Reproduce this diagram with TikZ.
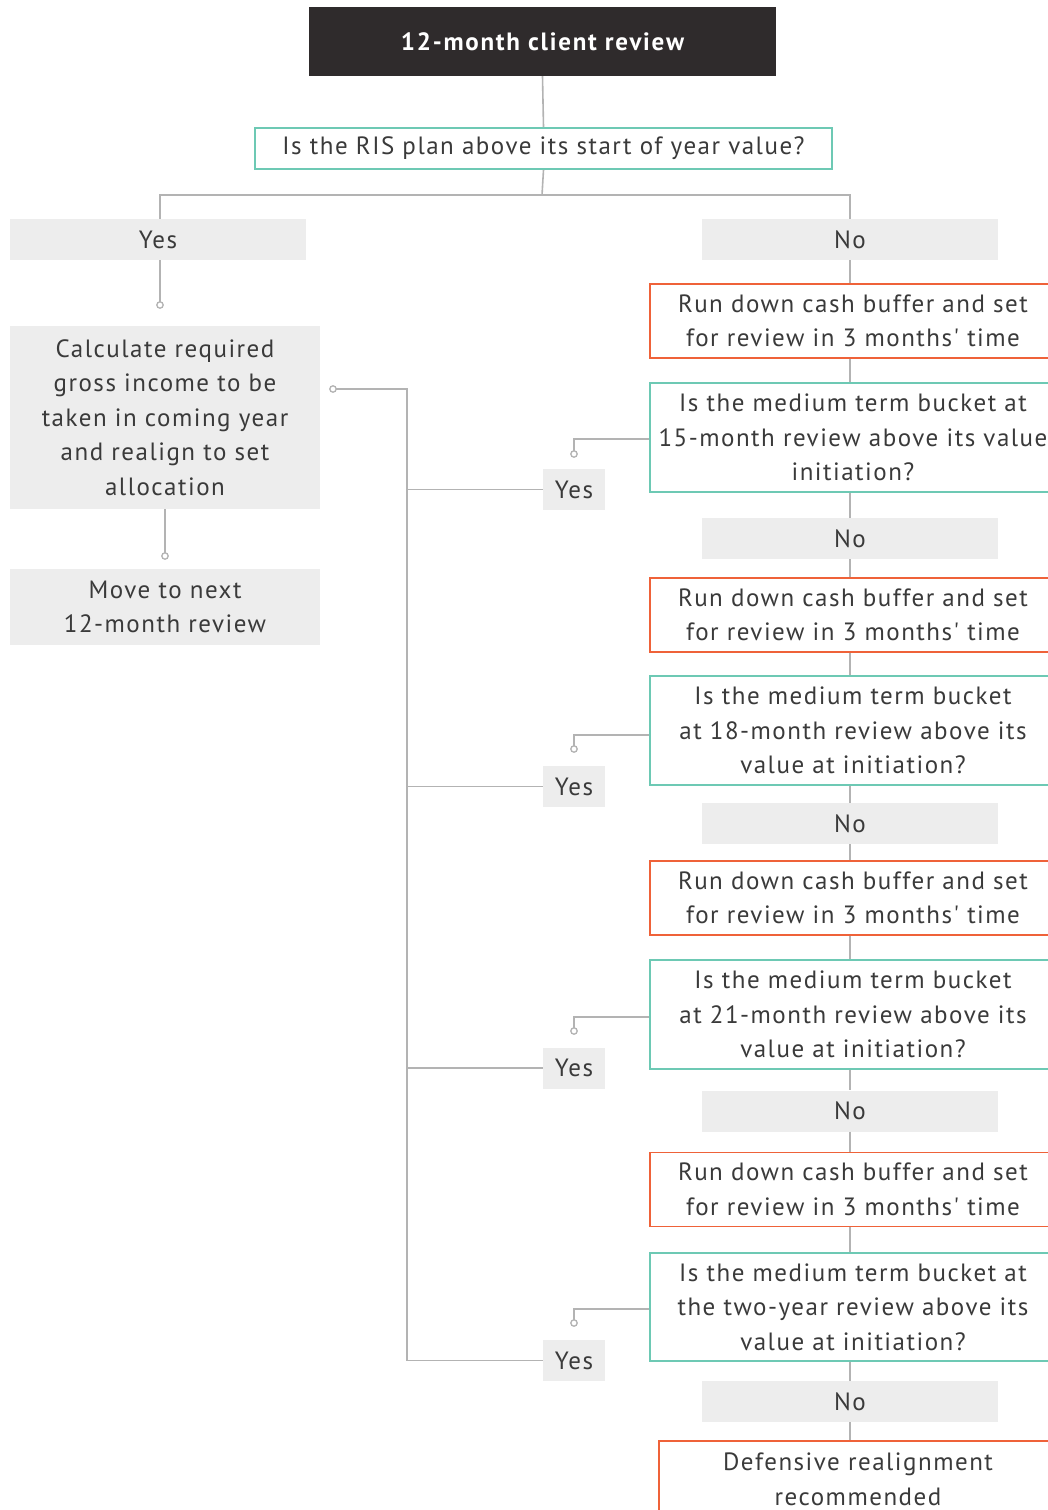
\documentclass[tikz,border=0pt]{standalone}
\usepackage{fontspec}
\setmainfont{PT Sans}[Ligatures=TeXOff, LetterSpace=6]
\newfontfamily\titlefont{PT Sans}[Ligatures=TeXOff, LetterSpace=7]
\definecolor{teal}{HTML}{6DC9B4}
\definecolor{org}{HTML}{EF6239}
\definecolor{lgray}{HTML}{B3B3B3}
\definecolor{gfill}{HTML}{EDEDED}
\definecolor{titlebg}{HTML}{2F2B2C}
\definecolor{txt}{HTML}{3A3A3A}
\tikzset{
  base/.style={inner sep=0pt, align=center, text=txt, font=\fontsize{25}{34.5}\selectfont},
  titlebox/.style={base, fill=titlebg, text=white, font=\titlefont\bfseries\fontsize{25}{34.5}\selectfont},
  tealbox/.style={base, draw=teal, line width=1.8pt},
  orgbox/.style={base, draw=org, line width=1.8pt},
  graybox/.style={base, fill=gfill},
  conn/.style={draw=lgray, line width=1.6pt},
  dot/.style={draw=lgray, line width=1.3pt, fill=white},
}
\begin{document}
\begin{tikzpicture}[x=1pt,y=-1pt]
\useasboundingbox (0,0) rectangle (1048,1510);
\clip (0,0) rectangle (1048,1510);
% top
\node[titlebox, minimum width=467, minimum height=69] (title) at (542.5,41.5) {12-month client review};
\node[tealbox, minimum width=577, minimum height=41] (q) at (543.5,148.5) {Is the RIS plan above its start of year value?};
\node[graybox, minimum width=296, minimum height=41] (yesA) at (158,239.5) {Yes};
\node[graybox, minimum width=296, minimum height=41] (noA) at (850,239.5) {No};
\coordinate (j) at (542,195);
% left column
\node[graybox, minimum width=310, minimum height=183] (calc) at (165,417.5) {Calculate required\\gross income to be\\taken in coming year\\and realign to set\\allocation};
\node[graybox, minimum width=310, minimum height=76] (move) at (165,607) {Move to next\\12-month review};
\coordinate (cA) at (160,305);
\coordinate (cB) at (165,556);
\coordinate (cC) at (333,389);
\coordinate (spine) at (407,389);
% right column
\node[orgbox, minimum width=406, minimum height=74] (r1) at (853,321) {Run down cash buffer and set\\for review in 3 months' time};
\node[tealbox, minimum width=406, minimum height=109] (t1) at (853,437.5) {Is the medium term bucket at\\15-month review above its value\\initiation?};
\node[graybox, minimum width=62, minimum height=41] (y1) at (574,489.5) {Yes};
\node[graybox, minimum width=296, minimum height=41] (n2) at (850,538.5) {No};
\node[orgbox, minimum width=406, minimum height=74] (r2) at (853,615) {Run down cash buffer and set\\for review in 3 months' time};
\node[tealbox, minimum width=406, minimum height=109] (t2) at (853,730.5) {Is the medium term bucket\\at 18-month review above its\\value at initiation?};
\node[graybox, minimum width=62, minimum height=41] (y2) at (574,786.5) {Yes};
\node[graybox, minimum width=296, minimum height=41] (n3) at (850,823.5) {No};
\node[orgbox, minimum width=406, minimum height=74] (r3) at (853,898) {Run down cash buffer and set\\for review in 3 months' time};
\node[tealbox, minimum width=406, minimum height=109] (t3) at (853,1014.5) {Is the medium term bucket\\at 21-month review above its\\value at initiation?};
\node[graybox, minimum width=62, minimum height=41] (y3) at (574,1068) {Yes};
\node[graybox, minimum width=296, minimum height=41] (n4) at (850,1111) {No};
\node[orgbox, minimum width=406, minimum height=74] (r4) at (853,1189.5) {Run down cash buffer and set\\for review in 3 months' time};
\node[tealbox, minimum width=406, minimum height=108] (t4) at (853,1307) {Is the medium term bucket at\\the two-year review above its\\value at initiation?};
\node[graybox, minimum width=62, minimum height=41] (y4) at (574,1360.5) {Yes};
\node[graybox, minimum width=296, minimum height=41] (n5) at (850,1401.5) {No};
\node[orgbox, minimum width=398, minimum height=77] (r5) at (858,1479.5) {Defensive realignment\\recommended};
\coordinate (c1) at (574,454);
\coordinate (c2) at (574,749);
\coordinate (c3) at (574,1031);
\coordinate (c4) at (574,1323);
% connectors
\draw[conn] (title.south) -- (q.north);
\draw[conn] (q.south) -- (j);
\draw[conn] (yesA.north -| cA) -- (cA |- j) -- (noA.north |- j) -- (noA.north);
\draw[conn] (yesA.south -| cA) -- (cA);
\draw[conn] (calc.south -| cB) -- (cB);
\draw[conn] (cC) -- (spine) -- (spine |- y4.west) -- (y4.west);
\draw[conn] (spine |- y1.west) -- (y1.west);
\draw[conn] (spine |- y2.west) -- (y2.west);
\draw[conn] (spine |- y3.west) -- (y3.west);
\draw[conn] (noA.south) -- (noA.south |- r1.north);
\draw[conn] (noA.south |- r1.south) -- (noA.south |- t1.north);
\draw[conn] (noA.south |- t1.south) -- (n2.north);
\draw[conn] (n2.south) -- (n2.south |- r2.north);
\draw[conn] (n2.south |- r2.south) -- (n2.south |- t2.north);
\draw[conn] (n2.south |- t2.south) -- (n3.north);
\draw[conn] (n3.south) -- (n3.south |- r3.north);
\draw[conn] (n3.south |- r3.south) -- (n3.south |- t3.north);
\draw[conn] (n3.south |- t3.south) -- (n4.north);
\draw[conn] (n4.south) -- (n4.south |- r4.north);
\draw[conn] (n4.south |- r4.south) -- (n4.south |- t4.north);
\draw[conn] (n4.south |- t4.south) -- (n5.north);
\draw[conn] (n5.south) -- (n5.south |- r5.north);
\draw[conn] (t1.west |- 0,439) -| (c1);
\draw[conn] (t2.west |- 0,735) -| (c2);
\draw[conn] (t3.west |- 0,1017) -| (c3);
\draw[conn] (t4.west |- 0,1309) -| (c4);
\foreach \c in {cA,cB,cC,c1,c2,c3,c4} \draw[dot] (\c) circle (3.2);
\end{tikzpicture}
\end{document}
